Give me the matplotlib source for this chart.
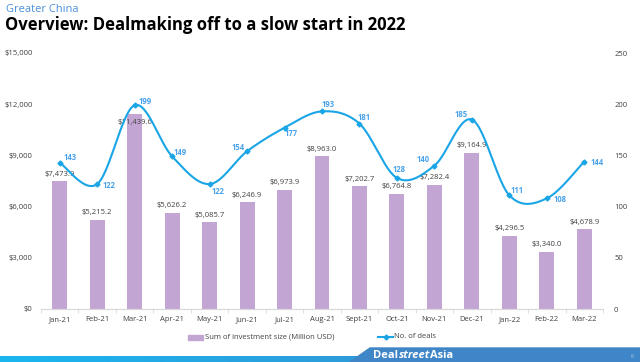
import matplotlib
matplotlib.use("Agg")
import matplotlib.pyplot as plt
import numpy as np
from matplotlib.patches import Polygon, Rectangle
from matplotlib.ticker import FuncFormatter, MultipleLocator

plt.rcParams['font.family'] = ['Open Sans', 'DejaVu Sans']

# chart data
months = ['Jan-21', 'Feb-21', 'Mar-21', 'Apr-21', 'May-21', 'Jun-21', 'Jul-21', 'Aug-21',
          'Sept-21', 'Oct-21', 'Nov-21', 'Dec-21', 'Jan-22', 'Feb-22', 'Mar-22']
investment = [7473.9, 5215.2, 11439.6, 5626.2, 5085.7, 6246.9, 6973.9, 8963.0,
              7202.7, 6764.8, 7282.4, 9164.9, 4296.5, 3340.0, 4678.9]
deals = [143, 122, 199, 149, 122, 154, 177, 193, 181, 128, 140, 185, 111, 108, 144]

# label offsets for the deal counts (pixels)
deal_offsets = [(10, 5), (12, -1), (10, 4), (8, 4), (8, -7), (-9, 4), (7, -6), (6, 7),
                (5, 6), (2, 8), (-11, 6), (-11, 5), (8, 5), (13, -1), (13, -1)]

BAR_COLOR = '#c3a5d3'
LINE_COLOR = '#1aa5e6'
LABEL_BLUE = '#4aa3ea'
TEXT_GRAY = '#404040'


def smooth_curve(x, y, steps=30):
    # bezier smoothing similar to spreadsheet "smoothed line"
    pts = np.column_stack([x, y]).astype(float)
    n = len(pts)
    out = []
    for i in range(n - 1):
        p0 = pts[i - 1] if i > 0 else pts[i]
        p1 = pts[i]
        p2 = pts[i + 1]
        p3 = pts[i + 2] if i + 2 < n else pts[i + 1]
        c1 = p1 + (p2 - p0) / 6.0
        c2 = p2 - (p3 - p1) / 6.0
        t = np.linspace(0, 1, steps)[:, None]
        seg = ((1 - t) ** 3) * p1 + 3 * ((1 - t) ** 2) * t * c1 + 3 * (1 - t) * t ** 2 * c2 + t ** 3 * p2
        out.append(seg if i == 0 else seg[1:])
    out = np.vstack(out)
    return out[:, 0], out[:, 1]


fig = plt.figure(figsize=(6.4, 3.62), dpi=100)
ax = fig.add_axes([41 / 640, 1 - 309 / 362, (603 - 41) / 640, 256 / 362])
ax2 = ax.twinx()

x = np.arange(len(months))
bars = ax.bar(x, investment, width=0.4, color=BAR_COLOR, zorder=2,
              label='Sum of investment size (Million USD)')

ax.set_xlim(-0.5, len(months) - 0.5)
ax.set_ylim(0, 15000)
ax.yaxis.set_major_locator(MultipleLocator(3000))
ax.yaxis.set_major_formatter(FuncFormatter(lambda v, p: '${:,.0f}'.format(v)))
ax2.set_ylim(0, 250)
ax2.yaxis.set_major_locator(MultipleLocator(50))

for a in (ax, ax2):
    for s in ['top', 'left', 'right']:
        a.spines[s].set_visible(False)
    a.spines['bottom'].set_color('#d9d9d9')
    a.tick_params(axis='y', length=0, labelsize=5.5, labelcolor=TEXT_GRAY, pad=6)

ax.set_xticks(x)
ax.set_xticklabels(months)
ax.tick_params(axis='x', length=0, labelsize=5.5, labelcolor=TEXT_GRAY, pad=5)
ax.set_xticks(np.arange(-0.5, len(months)), minor=True)
ax.tick_params(axis='x', which='minor', length=3, color='#d9d9d9')
ax2.tick_params(axis='y', pad=8)

# bar value labels
for i, v in enumerate(investment):
    dy = -9 if v > 11000 else 7
    ax.annotate('${:,.1f}'.format(v), (x[i], v), xytext=(0, dy), textcoords='offset pixels',
                ha='center', va='center', fontsize=5.5, color=TEXT_GRAY, zorder=4)

# smoothed deal line
sx, sy = smooth_curve(x, deals)
ax2.plot(sx, sy, color=LINE_COLOR, lw=1.5, zorder=3)
ax2.plot(x, deals, linestyle='none', marker='D', ms=2.5, color=LINE_COLOR, zorder=3)
for i, v in enumerate(deals):
    ax2.annotate(str(v), (x[i], v), xytext=deal_offsets[i], textcoords='offset pixels',
                 ha='center', va='center', fontsize=5.5, fontweight='bold', color=LABEL_BLUE)

# legend, drawn by hand in figure coords
fig.patches.append(Rectangle((188 / 640, 1 - 340 / 362), 15 / 640, 5 / 362,
                             transform=fig.transFigure, color=BAR_COLOR))
fig.text(205 / 640, 1 - 337 / 362, 'Sum of investment size (Million USD)', fontsize=5.5,
         color=TEXT_GRAY, va='center', ha='left')
fig.lines.append(plt.Line2D([378 / 640, 393 / 640], [1 - 337 / 362] * 2, transform=fig.transFigure,
                            color=LINE_COLOR, lw=1.5))
fig.lines.append(plt.Line2D([385.5 / 640], [1 - 337 / 362], transform=fig.transFigure,
                            color=LINE_COLOR, marker='D', ms=2.5))
fig.text(394 / 640, 1 - 337 / 362, 'No. of deals', fontsize=5.5, color=TEXT_GRAY,
         va='center', ha='left')

# titles
fig.text(6 / 640, 1 - 9 / 362, 'Greater China', fontsize=8, color='#4a90d9', va='center', ha='left')
fig.text(5 / 640, 1 - 25 / 362, 'Overview: Dealmaking off to a slow start in 2022', fontsize=12,
         fontweight='bold', color='black', va='center', ha='left')

# footer band
grad = np.linspace(0, 1, 256)[None, :]
footer = fig.add_axes([0, 0, 1, 6 / 362])
footer.imshow(grad, aspect='auto', cmap=matplotlib.colors.LinearSegmentedColormap.from_list(
    'band', ['#1ab6f0', '#3d86c8']), extent=[0, 1, 0, 1])
footer.axis('off')
fig.patches.append(Polygon([(350 / 640, 0), (370 / 640, 14 / 362), (1, 14 / 362), (1, 0)],
                           closed=True, transform=fig.transFigure, color='#3f86c8', zorder=5))

# logo: place the three pieces one after another
renderer = fig.canvas.get_renderer()
xpos = 373
for piece, st in [('Deal', 'normal'), ('street', 'italic'), ('Asia', 'normal')]:
    t = fig.text(xpos / 640, 1 - 355 / 362, piece, fontsize=8, fontweight='bold', style=st,
                 color='white', va='center', ha='left', zorder=6)
    xpos += t.get_window_extent(renderer).width + 0.5
fig.text(632 / 640, 1 - 356 / 362, '6', fontsize=4, color='#a9c6e6', va='center', ha='center', zorder=6)

fig.savefig('out.png', dpi=100)
